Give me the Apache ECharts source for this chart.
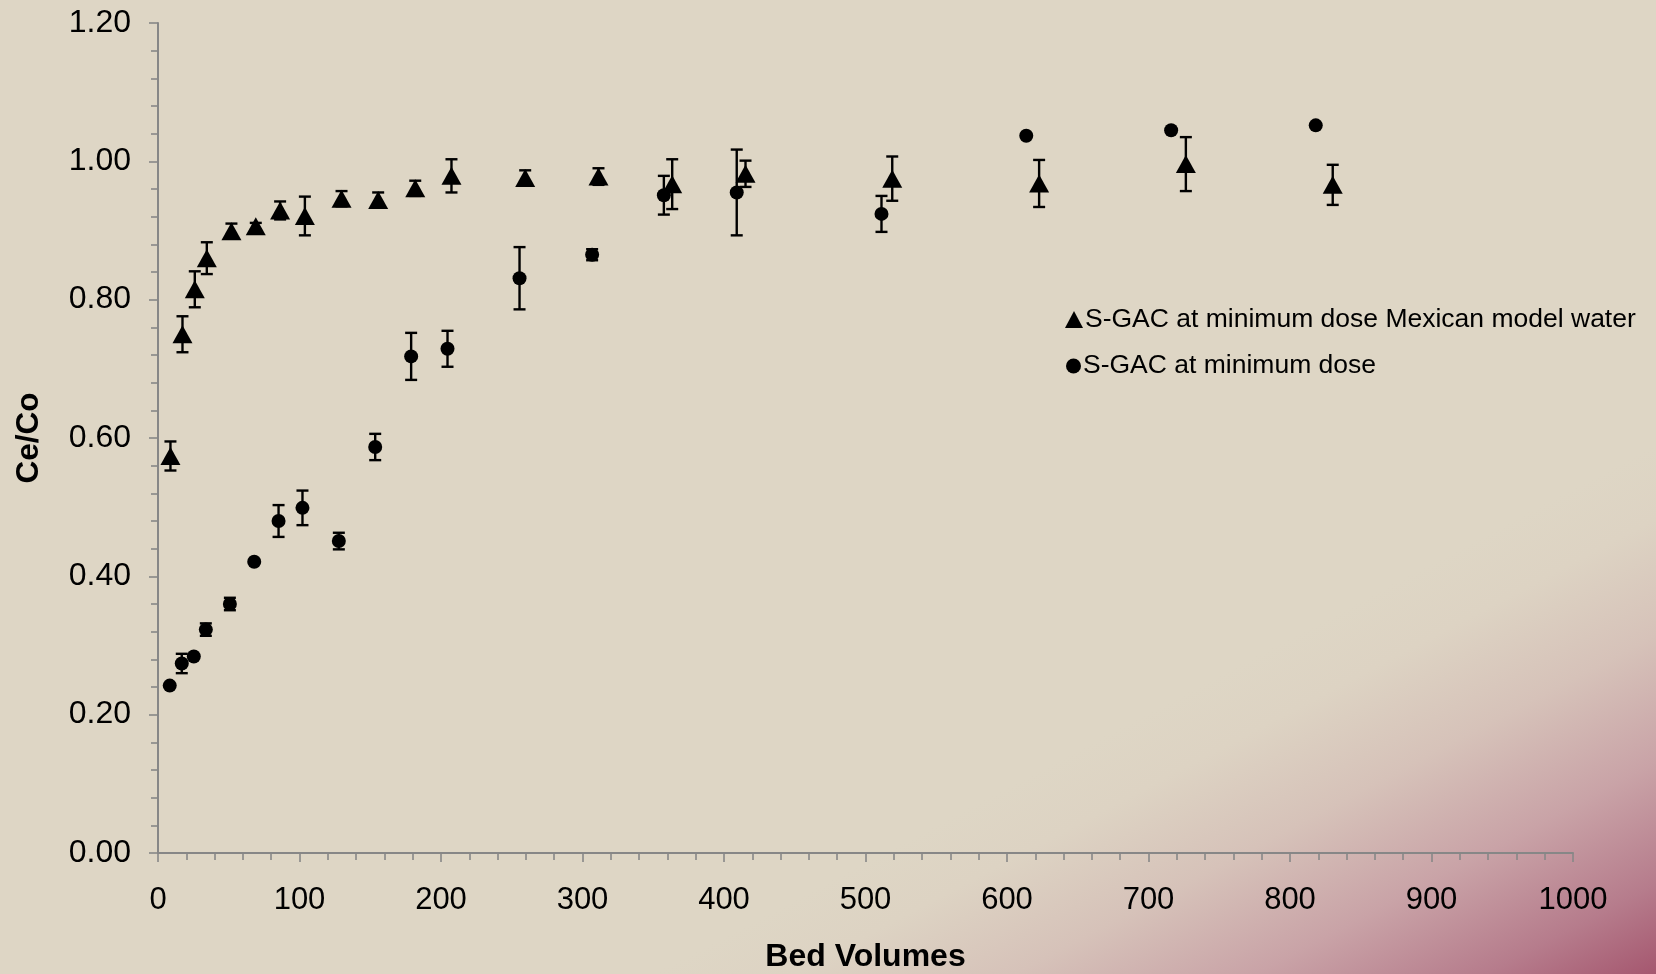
<!DOCTYPE html>
<html>
<head>
<meta charset="utf-8">
<script src="https://cdn.jsdelivr.net/npm/echarts@6/dist/echarts.min.js"></script>
<style>
  html, body { margin: 0; padding: 0; }
  #chart { width: 1656px; height: 974px; }
</style>
</head>
<body>
<div id="chart"></div>
<script>
// Breakthrough of S-GAC columns: Ce/Co against bed volumes, with standard deviations
const seriesNames = ['S-GAC at minimum dose Mexican model water', 'S-GAC at minimum dose'];

const mexBV   = [8.8, 17.3, 26.0, 34.5, 51.9, 69.1, 86.3, 103.8, 129.7, 155.6, 181.8, 207.4, 259.5, 311.3, 363.4, 415.2, 518.9, 622.7, 726.4, 830.2];
const mexCeCo = [0.574, 0.750, 0.815, 0.860, 0.899, 0.906, 0.929, 0.921, 0.946, 0.944, 0.961, 0.979, 0.976, 0.978, 0.967, 0.982, 0.975, 0.968, 0.996, 0.966];
const mexSD   = [0.021, 0.026, 0.026, 0.023, 0.011, 0.005, 0.013, 0.028, 0.011, 0.011, 0.011, 0.024, 0.011, 0.012, 0.036, 0.019, 0.032, 0.034, 0.039, 0.029];

const minBV   = [8.3, 16.8, 25.3, 33.8, 50.8, 68.0, 85.2, 102.1, 127.8, 153.5, 178.9, 204.6, 255.5, 306.8, 357.5, 409.0, 511.3, 613.6, 716.0, 818.2];
const minCeCo = [0.242, 0.274, 0.284, 0.323, 0.360, 0.421, 0.480, 0.499, 0.451, 0.587, 0.718, 0.729, 0.831, 0.865, 0.951, 0.955, 0.924, 1.037, 1.045, 1.052];
const minSD   = [0, 0.014, 0, 0.009, 0.009, 0, 0.023, 0.025, 0.012, 0.019, 0.034, 0.026, 0.045, 0.008, 0.028, 0.062, 0.026, 0, 0, 0];

const xTicks = [0, 1000, 100];   // min, max, interval
const yTicks = [0, 1.2, 0.2];

const FONT = '"Liberation Sans", Arial, sans-serif';
const AXIS_GREY = '#878787';

const pts = (xs, ys) => xs.map((x, i) => [x, ys[i]]);
const bars = (xs, ys, sd) => xs.map((x, i) => [x, ys[i], sd[i]]).filter(d => d[2] > 0);

function errorBar(params, api) {
  const x = api.value(0), y = api.value(1), e = api.value(2);
  const hi = api.coord([x, y + e]);
  const lo = api.coord([x, y - e]);
  const hw = 6;
  const style = { stroke: '#000', lineWidth: 2.4 };
  return {
    type: 'group',
    children: [
      { type: 'line', shape: { x1: hi[0], y1: hi[1], x2: lo[0], y2: lo[1] }, style },
      { type: 'line', shape: { x1: hi[0] - hw, y1: hi[1], x2: hi[0] + hw, y2: hi[1] }, style },
      { type: 'line', shape: { x1: lo[0] - hw, y1: lo[1], x2: lo[0] + hw, y2: lo[1] }, style }
    ]
  };
}

const legendText = { fontSize: 26.5, color: '#000', fontFamily: FONT, padding: [0, 0, 0, -3] };

const chart = echarts.init(document.getElementById('chart'));
chart.setOption({
  backgroundColor: {
    type: 'linear', x: 0.868, y: 0.575, x2: 1, y2: 1,
    colorStops: [
      { offset: 0, color: '#DED6C5' },
      { offset: 0.14, color: '#DDD3C3' },
      { offset: 0.36, color: '#D6C2B9' },
      { offset: 0.6, color: '#C9A3A7' },
      { offset: 0.83, color: '#B67C8C' },
      { offset: 1, color: '#A5576F' }
    ]
  },
  animation: false,
  grid: { left: 158, right: 83, top: 23, bottom: 121, containLabel: false, outerBoundsMode: 'none' },
  legend: [
    {
      data: [{ name: seriesNames[0], icon: 'triangle' }],
      left: 1065, top: 306, padding: 0,
      itemWidth: 18, itemHeight: 17,
      textStyle: legendText
    },
    {
      data: [{ name: seriesNames[1], icon: 'circle' }],
      left: 1066, top: 352.5, padding: 0,
      itemWidth: 15, itemHeight: 15,
      textStyle: legendText
    }
  ],
  xAxis: {
    type: 'value',
    min: xTicks[0], max: xTicks[1], interval: xTicks[2],
    name: 'Bed Volumes',
    nameLocation: 'middle',
    nameGap: 88,
    nameTextStyle: { fontSize: 32, fontWeight: 'bold', color: '#000', fontFamily: FONT },
    axisLine: { show: true, lineStyle: { color: AXIS_GREY, width: 2 } },
    axisTick: { show: true, length: 9, lineStyle: { color: AXIS_GREY, width: 1.6 } },
    minorTick: { show: true, splitNumber: 5, length: 7, lineStyle: { color: AXIS_GREY, width: 1.6 } },
    splitLine: { show: false },
    axisLabel: { fontSize: 31, color: '#000', fontFamily: FONT, margin: 32, formatter: v => String(v) }
  },
  yAxis: {
    type: 'value',
    min: yTicks[0], max: yTicks[1], interval: yTicks[2],
    name: 'Ce/Co',
    nameLocation: 'middle',
    nameGap: 113,
    nameTextStyle: { fontSize: 31.5, fontWeight: 'bold', color: '#000', fontFamily: FONT },
    axisLine: { show: true, lineStyle: { color: AXIS_GREY, width: 2 } },
    axisTick: { show: true, length: 9, lineStyle: { color: AXIS_GREY, width: 1.6 } },
    minorTick: { show: true, splitNumber: 5, length: 7, lineStyle: { color: AXIS_GREY, width: 1.6 } },
    splitLine: { show: false },
    axisLabel: {
      fontSize: 32, color: '#000', fontFamily: FONT, margin: 27,
      formatter: v => v.toFixed(2)
    }
  },
  series: [
    {
      name: seriesNames[0] + ' SD',
      type: 'custom',
      renderItem: errorBar,
      encode: { x: 0, y: 1 },
      data: bars(mexBV, mexCeCo, mexSD),
      z: 2, silent: true
    },
    {
      name: seriesNames[1] + ' SD',
      type: 'custom',
      renderItem: errorBar,
      encode: { x: 0, y: 1 },
      data: bars(minBV, minCeCo, minSD),
      z: 2, silent: true
    },
    {
      name: seriesNames[0],
      type: 'scatter',
      symbol: 'triangle',
      symbolSize: [20, 18],
      itemStyle: { color: '#000', opacity: 1 },
      data: pts(mexBV, mexCeCo),
      z: 3
    },
    {
      name: seriesNames[1],
      type: 'scatter',
      symbol: 'circle',
      symbolSize: 14,
      itemStyle: { color: '#000', opacity: 1 },
      data: pts(minBV, minCeCo),
      z: 3
    }
  ]
});
</script>
</body>
</html>
